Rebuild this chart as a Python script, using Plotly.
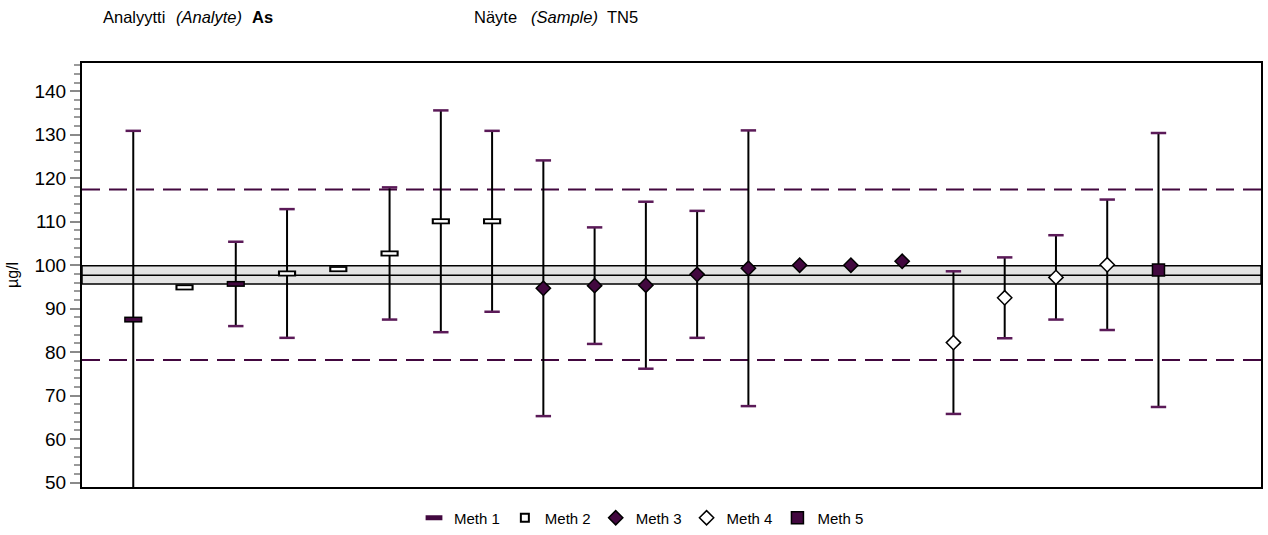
import plotly.graph_objects as go

# Participant results for As in sample TN5 (µg/l)
lab_pos = list(range(1, 22))
method = [1, 2, 1, 2, 2, 2, 2, 2, 3, 3, 3, 3, 3, 3, 3, 3, 4, 4, 4, 4, 5]
result = [87.5, 94.9, 95.7, 98.1, 99.1, 102.7, 110.1, 110.1, 94.7, 95.3, 95.4,
          97.9, 99.3, 100.0, 100.0, 100.9, 82.2, 92.5, 97.2, 100.1, 98.9]
uncert = [43.4, None, 9.7, 14.8, None, 15.2, 25.5, 20.8, 29.4, 13.4, 19.2,
          14.6, 31.7, None, None, None, 16.4, 9.3, 9.7, 15.0, 31.5]

assigned = 97.7
assigned_band = (95.7, 99.9)
accept_limits = (78.2, 117.4)

y_ticks = [50, 60, 70, 80, 90, 100, 110, 120, 130, 140]
method_names = ["Meth 1", "Meth 2", "Meth 3", "Meth 4", "Meth 5"]

PURPLE = "#42083f"
CAP = "#5b1a58"
FONT = "Liberation Sans, Arial, sans-serif"

fig = go.Figure()

# error bars (black stems, caps drawn separately)
ex, ey, ee = [], [], []
for x, y, u in zip(lab_pos, result, uncert):
    if u is not None:
        ex.append(x); ey.append(y); ee.append(u)
fig.add_trace(go.Scatter(
    x=ex, y=ey, mode="markers", marker=dict(size=0.1, color="rgba(0,0,0,0)"),
    error_y=dict(type="data", array=ee, symmetric=True, color="black",
                 thickness=2, width=0),
    showlegend=False, hoverinfo="skip"))

cx, cy = [], []
for x, y, u in zip(ex, ey, ee):
    cx += [x, x]; cy += [y + u, y - u]
fig.add_trace(go.Scatter(
    x=cx, y=cy, mode="markers",
    marker=dict(symbol="line-ew", size=11, line=dict(width=2.5, color=CAP)),
    showlegend=False, hoverinfo="skip"))


def pts(m):
    xs = [x for x, mm in zip(lab_pos, method) if mm == m]
    ys = [y for y, mm in zip(result, method) if mm == m]
    return xs, ys


# Meth 1: filled rectangle
x1, y1 = pts(1)
fig.add_trace(go.Scatter(x=x1, y=y1, mode="markers", showlegend=False,
                         marker=dict(symbol="line-ew", size=13,
                                     line=dict(width=6, color="black"))))
fig.add_trace(go.Scatter(x=x1, y=y1, mode="markers", showlegend=False,
                         marker=dict(symbol="line-ew", size=11,
                                     line=dict(width=3, color=PURPLE))))
fig.add_trace(go.Scatter(x=[None], y=[None], mode="markers", name=method_names[0],
                         marker=dict(symbol="line-ew", size=12,
                                     line=dict(width=5, color=PURPLE))))
# Meth 2: open rectangle
x2, y2 = pts(2)
fig.add_trace(go.Scatter(x=x2, y=y2, mode="markers", showlegend=False,
                         marker=dict(symbol="line-ew", size=13,
                                     line=dict(width=6, color="black"))))
fig.add_trace(go.Scatter(x=x2, y=y2, mode="markers", showlegend=False,
                         marker=dict(symbol="line-ew", size=10,
                                     line=dict(width=2.5, color="white"))))
fig.add_trace(go.Scatter(x=[None], y=[None], mode="markers", name=method_names[1],
                         marker=dict(symbol="square-open", size=8, color="black",
                                     line=dict(width=2, color="black"))))
# Meth 3: filled diamond
x3, y3 = pts(3)
fig.add_trace(go.Scatter(x=x3, y=y3, mode="markers", name=method_names[2],
                         marker=dict(symbol="diamond", size=11, color=PURPLE,
                                     line=dict(width=1.5, color="black"))))
# Meth 4: open diamond
x4, y4 = pts(4)
fig.add_trace(go.Scatter(x=x4, y=y4, mode="markers", name=method_names[3],
                         marker=dict(symbol="diamond", size=11, color="white",
                                     line=dict(width=1.5, color="black"))))
# Meth 5: filled square
x5, y5 = pts(5)
fig.add_trace(go.Scatter(x=x5, y=y5, mode="markers", name=method_names[4],
                         marker=dict(symbol="square", size=12, color=PURPLE,
                                     line=dict(width=1.5, color="black"))))

shapes = [
    dict(type="rect", xref="paper", yref="y", x0=0, x1=1,
         y0=assigned_band[0], y1=assigned_band[1], fillcolor="#e4e4e4",
         line=dict(color="black", width=1.5), layer="below"),
    dict(type="line", xref="paper", yref="y", x0=0, x1=1,
         y0=assigned, y1=assigned, line=dict(color="black", width=1.5),
         layer="below"),
]
for lim in accept_limits:
    shapes.append(dict(type="line", xref="paper", yref="y", x0=0, x1=1,
                       y0=lim, y1=lim, layer="below",
                       line=dict(color=PURPLE, width=2, dash="18px,9px")))

# page geometry (pixels)
L, R, T, B = 82, 7, 63, 48
W, H = 1268, 535
pw, ph = W - L - R, H - T - B


def px_x(p):
    return (p - L) / pw


def px_y(p):
    return (H - B - p) / ph


header = [("Analyytti", 101, ""), ("(Analyte)", 174, "i"), ("As", 250, "b"),
          ("Näyte", 472, ""), ("(Sample)", 529, "i"), ("TN5", 605, "")]
annotations = []
for txt, xp, style in header:
    t = f"<{style}>{txt}</{style}>" if style else txt
    annotations.append(dict(text=t, xref="paper", yref="paper",
                            x=px_x(xp), y=px_y(17), xanchor="left",
                            yanchor="middle", showarrow=False,
                            font=dict(family=FONT, size=16.5, color="black")))

fig.update_layout(
    width=W, height=H,
    margin=dict(l=L, r=R, t=T, b=B, autoexpand=False),
    paper_bgcolor="white", plot_bgcolor="white",
    font=dict(family=FONT, color="black"),
    shapes=shapes, annotations=annotations,
    showlegend=True,
    legend=dict(orientation="h", x=px_x(414), xanchor="left", y=px_y(518),
                yanchor="middle", font=dict(family=FONT, size=15),
                itemwidth=30, tracegroupgap=0),
    xaxis=dict(range=[0, 23], showticklabels=False, ticks="", showgrid=False,
               zeroline=False, showline=True, mirror=True, linecolor="black",
               linewidth=2),
    yaxis=dict(range=[49, 146.5], tickvals=y_ticks, ticks="outside",
               ticklen=10, tickwidth=2, tickcolor="#8a8a8a", showgrid=False,
               zeroline=False, showline=True, mirror=True, linecolor="black",
               linewidth=2, tickfont=dict(family=FONT, size=19),
               minor=dict(dtick=2, ticks="outside", ticklen=6, tickwidth=2,
                          tickcolor="#9a9a9a", showgrid=False),
               title=dict(text="µg/l", font=dict(family=FONT, size=16),
                          standoff=12)),
)

fig.write_html("out.html")
